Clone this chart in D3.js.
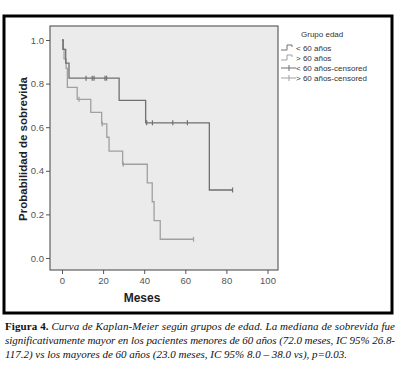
<!DOCTYPE html>
<html><head><meta charset="utf-8">
<script src="https://cdn.jsdelivr.net/npm/d3@7"></script>
<style>body{margin:0;background:#fff}svg{display:block}</style>
</head><body>
<svg id="c" width="401" height="369"></svg>
<script>
// Data
const groups = ["< 60 años", "> 60 años"];
const lt60Times = [0, 0.6, 1.8, 3.4, 27.8, 40.7, 71.7];
const lt60Surv  = [1.0, 0.957, 0.894, 0.825, 0.723, 0.62, 0.312];
const lt60End = 83;
const lt60Censor = [11.7, 14.7, 15.6, 20.9, 21.7, 41.2, 44, 53.9, 61, 83];
const gt60Times = [0, 0.3, 1.0, 2.0, 2.6, 7.4, 14.0, 19.3, 21.8, 22.9, 29.5, 41.5, 43.9, 44.8, 47.8];
const gt60Surv  = [1.0, 0.957, 0.913, 0.87, 0.783, 0.728, 0.668, 0.615, 0.554, 0.49, 0.43, 0.345, 0.258, 0.171, 0.086];
const gt60End = 64;
const gt60Censor = [8.3, 19.6, 29.8, 64];
const xTicks = [0, 20, 40, 60, 80, 100];
const yTicks = [0, 0.2, 0.4, 0.6, 0.8, 1.0];
const legendLabels = ["< 60 años", "> 60 años", "< 60 años-censored", "> 60 años-censored"];
const captionLines = [
  ["Figura 4.", " Curva de Kaplan-Meier según grupos de edad. La mediana de sobrevida fue"],
  ["", "significativamente mayor en los pacientes menores de 60 años (72.0 meses, IC 95% 26.8-"],
  ["", "117.2) vs los mayores de 60 años (23.0 meses, IC 95% 8.0 – 38.0 vs), p=0.03."]
];

const svg = d3.select("#c");
const col = ["#707070", "#a0a0a0"];

// outer frame
svg.append("rect").attr("x", 4).attr("y", 16).attr("width", 388).attr("height", 297)
  .attr("fill", "#fff").attr("stroke", "#000").attr("stroke-width", 3);

const P = {l: 50, t: 26, r: 278, b: 270};
svg.append("rect").attr("x", P.l).attr("y", P.t).attr("width", P.r - P.l).attr("height", P.b - P.t)
  .attr("fill", "#ebebeb").attr("stroke", "#606060").attr("stroke-width", 1.2);

const x = d3.scaleLinear().domain([0, 100]).range([62, 267.5]);
const y = d3.scaleLinear().domain([0, 1]).range([258, 40]);

// axes
const ya = svg.append("g").attr("transform", `translate(${P.l},0)`)
  .call(d3.axisLeft(y).tickValues(yTicks).tickFormat(d3.format(".1f")).tickSize(4).tickPadding(2));
const xa = svg.append("g").attr("transform", `translate(0,${P.b})`)
  .call(d3.axisBottom(x).tickValues(xTicks).tickFormat(d3.format("d")).tickSize(4).tickPadding(3));
[ya, xa].forEach(g => {
  g.select(".domain").remove();
  g.selectAll("line").attr("stroke", "#555");
  g.selectAll("text").attr("fill", "#555").style("font-family", "Arial, 'Liberation Sans', sans-serif").style("font-size", "9.5px");
});

// axis titles
svg.append("text").attr("x", 142).attr("y", 302).attr("text-anchor", "middle")
  .style("font-family", "Arial, 'Liberation Sans', sans-serif").style("font-weight", "bold").style("font-size", "12px")
  .attr("fill", "#222").text("Meses");
svg.append("text").attr("transform", "translate(27,149) rotate(-90)").attr("text-anchor", "middle")
  .style("font-family", "Arial, 'Liberation Sans', sans-serif").style("font-weight", "bold").style("font-size", "11.5px")
  .attr("fill", "#222").text("Probabilidad de sobrevida");

// KM curves
function stepPts(times, surv, end) {
  const pts = [];
  times.forEach((t, i) => { pts.push([t, surv[i]]); });
  pts.push([end, surv[surv.length - 1]]);
  return pts;
}
function survAt(times, surv, t) {
  let s = surv[0];
  for (let i = 0; i < times.length; i++) if (times[i] <= t) s = surv[i];
  return s;
}
const line = d3.line().x(d => x(d[0])).y(d => y(d[1])).curve(d3.curveStepAfter);
const series = [
  {times: gt60Times, surv: gt60Surv, end: gt60End, cens: gt60Censor, c: col[1]},
  {times: lt60Times, surv: lt60Surv, end: lt60End, cens: lt60Censor, c: col[0]}
];
series.forEach(s => {
  svg.append("path").attr("d", line(stepPts(s.times, s.surv, s.end)))
    .attr("fill", "none").attr("stroke", s.c).attr("stroke-width", 1.3);
  svg.append("g").selectAll("line").data(s.cens).join("line")
    .attr("x1", d => x(d)).attr("x2", d => x(d))
    .attr("y1", d => y(survAt(s.times, s.surv, d)) - 2.5)
    .attr("y2", d => y(survAt(s.times, s.surv, d)) + 2.5)
    .attr("stroke", s.c).attr("stroke-width", 1.2);
});

// legend
const lg = svg.append("g").style("font-family", "Arial, 'Liberation Sans', sans-serif").style("font-size", "8px");
lg.append("text").attr("x", 301).attr("y", 37).attr("fill", "#333").text("Grupo edad");
legendLabels.forEach((lab, i) => {
  const yy = 48 + i * 10;
  const c = col[i % 2];
  if (i < 2) {
    lg.append("path").attr("d", `M281,${yy + 2}H287V${yy - 3}H292V${yy - 1}`)
      .attr("fill", "none").attr("stroke", c).attr("stroke-width", 1);
  } else {
    lg.append("line").attr("x1", 281).attr("x2", 296).attr("y1", yy).attr("y2", yy).attr("stroke", c).attr("stroke-width", 1);
    lg.append("line").attr("x1", 289).attr("x2", 289).attr("y1", yy - 3).attr("y2", yy + 3).attr("stroke", c).attr("stroke-width", 1);
  }
  lg.append("text").attr("x", 296).attr("y", yy + 3).attr("fill", "#333").text(lab);
});

// caption
const cap = svg.append("g").style("font-family", "'Liberation Serif', 'Times New Roman', serif").style("font-size", "11px").attr("fill", "#111");
captionLines.forEach((ln, i) => {
  const t = cap.append("text").attr("x", 5).attr("y", 330 + i * 14);
  if (i < 2) t.attr("textLength", 390).attr("lengthAdjust", "spacing");
  if (ln[0]) t.append("tspan").style("font-weight", "bold").style("font-style", "normal").text(ln[0]);
  t.append("tspan").style("font-style", "italic").text(ln[1]);
});
</script>
</body></html>
